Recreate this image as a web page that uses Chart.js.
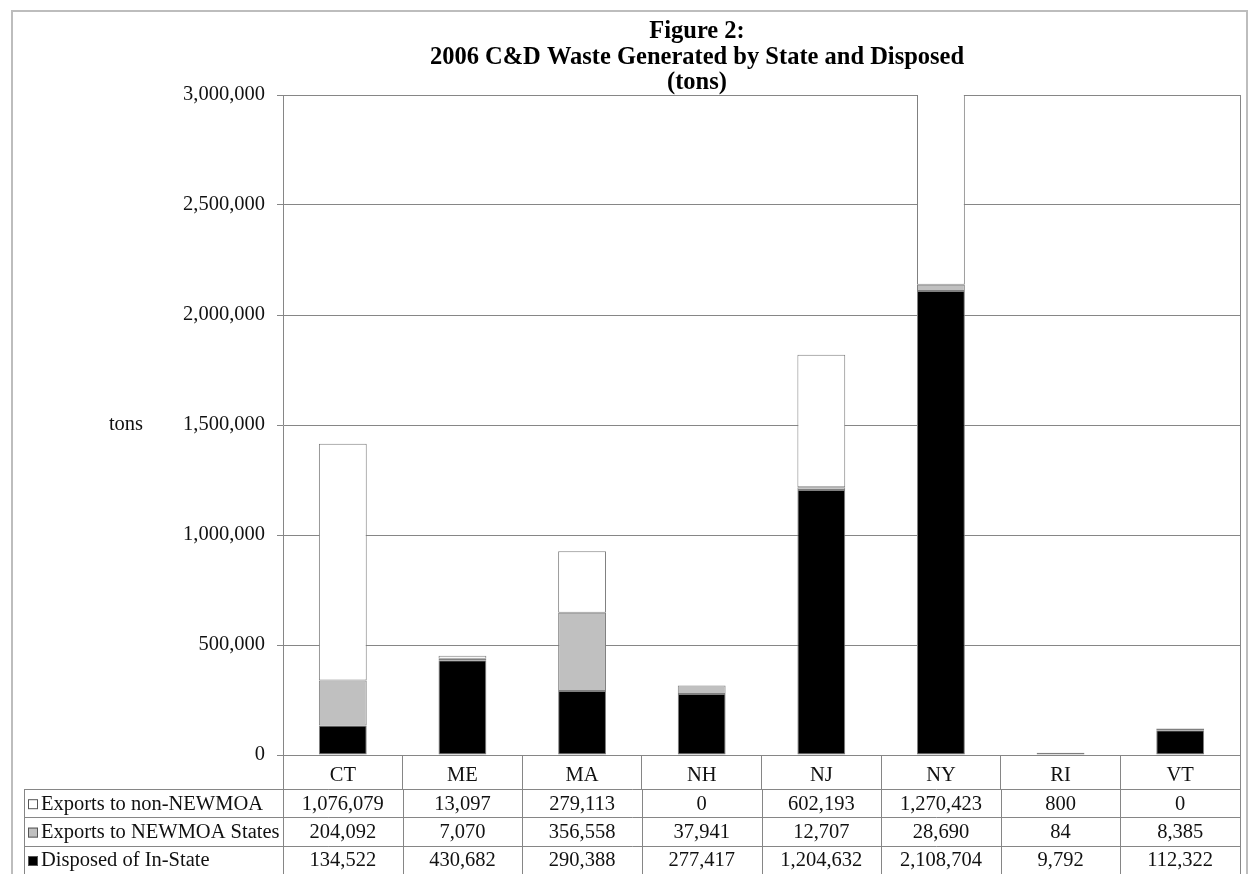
<!DOCTYPE html>
<html>
<head>
<meta charset="utf-8">
<title>2006 C&amp;D Waste Generated by State and Disposed</title>
<script src="https://cdn.jsdelivr.net/npm/chart.js@4/dist/chart.umd.min.js"></script>
<style>
  html, body { margin: 0; padding: 0; background: #ffffff; }
  canvas { display: block; }
</style>
</head>
<body>
<canvas id="chart" width="1248" height="874"></canvas>
<script>
// ---- data (tons) ----
const states = ['CT', 'ME', 'MA', 'NH', 'NJ', 'NY', 'RI', 'VT'];
const exportsNonNewmoa = [1076079, 13097, 279113, 0, 602193, 1270423, 800, 0];
const exportsNewmoa = [204092, 7070, 356558, 37941, 12707, 28690, 84, 8385];
const disposedInState = [134522, 430682, 290388, 277417, 1204632, 2108704, 9792, 112322];
const seriesNames = ['Exports to non-NEWMOA', 'Exports to NEWMOA States', 'Disposed of In-State'];
const titleLines = ['Figure 2:', '2006 C&D Waste Generated by State and Disposed', '(tons)'];
const yAxisLabel = 'tons';
const yMax = 3000000;
const yStep = 500000;

// ---- styling ----
const FONT = "'Liberation Serif', 'Times New Roman', serif";
const LINE = '#868686';
const FILL_WHITE = '#ffffff';
const FILL_GRAY = '#c0c0c0';
const FILL_BLACK = '#000000';
const fmt = v => v.toLocaleString('en-US');

// rows of the data table under the axis, top of stack first
const tableRows = [
  { name: seriesNames[0], values: exportsNonNewmoa, fill: FILL_WHITE },
  { name: seriesNames[1], values: exportsNewmoa, fill: FILL_GRAY },
  { name: seriesNames[2], values: disposedInState, fill: FILL_BLACK }
];

const TABLE = { left: 24, top: 789, rowH: 28.4, labelX: 41, keyX: 28, keySize: 10 };
const TITLE = { centerX: 697, firstY: 32, lineGap: 25.5, size: 24.5 };

// frame, title, axis caption and data table drawn around the chart
const decorations = {
  id: 'decorations',
  beforeDraw(chart) {
    const ctx = chart.ctx;
    ctx.save();
    ctx.fillStyle = '#ffffff';
    ctx.fillRect(0, 0, chart.width, chart.height);
    ctx.strokeStyle = '#bdbdbd';
    ctx.lineWidth = 2;
    ctx.strokeRect(12, 11, 1235, 880);
    ctx.restore();
  },
  afterDraw(chart) {
    const { ctx, chartArea } = chart;
    const x = chart.scales.x;
    ctx.save();

    // title block
    ctx.fillStyle = '#000';
    ctx.font = 'bold ' + TITLE.size + 'px ' + FONT;
    ctx.textAlign = 'center';
    ctx.textBaseline = 'middle';
    titleLines.forEach((t, i) => ctx.fillText(t, TITLE.centerX, TITLE.firstY + i * TITLE.lineGap));

    // right edge of the plot area
    ctx.strokeStyle = LINE;
    ctx.lineWidth = 1;
    const rx = Math.round(chartArea.right) + 0.5;
    ctx.beginPath();
    ctx.moveTo(rx, chartArea.top);
    ctx.lineTo(rx, chartArea.bottom);
    ctx.stroke();

    // y axis caption, set horizontally
    ctx.fillStyle = '#111';
    ctx.font = '20.5px ' + FONT;
    ctx.fillText(yAxisLabel, 126, (chartArea.top + chartArea.bottom) / 2);

    // column boundaries follow the category scale
    const centers = states.map((s, i) => x.getPixelForValue(i));
    const bounds = [chartArea.left];
    for (let i = 1; i < centers.length; i++) bounds.push((centers[i - 1] + centers[i]) / 2);
    bounds.push(chartArea.right);

    const tableBottom = TABLE.top + TABLE.rowH * tableRows.length;
    ctx.strokeStyle = LINE;
    ctx.beginPath();
    for (let r = 0; r <= tableRows.length; r++) {
      const y = Math.round(TABLE.top + r * TABLE.rowH) + 0.5;
      ctx.moveTo(TABLE.left, y);
      ctx.lineTo(chartArea.right + 0.5, y);
    }
    [TABLE.left].concat(bounds).forEach(bx => {
      const vx = Math.round(bx) + 0.5;
      ctx.moveTo(vx, TABLE.top);
      ctx.lineTo(vx, tableBottom + 2);
    });
    ctx.stroke();

    tableRows.forEach((row, r) => {
      const cy = TABLE.top + r * TABLE.rowH + TABLE.rowH / 2 + 1;
      // legend key
      ctx.fillStyle = row.fill;
      ctx.fillRect(TABLE.keyX, cy - TABLE.keySize / 2, TABLE.keySize, TABLE.keySize);
      ctx.strokeStyle = '#555';
      ctx.strokeRect(TABLE.keyX + 0.5, cy - TABLE.keySize / 2 + 0.5, TABLE.keySize - 1, TABLE.keySize - 1);
      // row label
      ctx.fillStyle = '#111';
      ctx.font = '20.5px ' + FONT;
      ctx.textAlign = 'left';
      ctx.fillText(row.name, TABLE.labelX, cy);
      // values
      ctx.textAlign = 'center';
      row.values.forEach((v, i) => ctx.fillText(fmt(v), centers[i], cy));
    });
    ctx.restore();
  }
};

const barCommon = {
  borderColor: '#7f7f7f',
  borderWidth: 1,
  borderSkipped: false,
  barPercentage: 0.4,
  categoryPercentage: 1.0
};

new Chart(document.getElementById('chart'), {
  type: 'bar',
  data: {
    labels: states,
    datasets: [
      Object.assign({ label: seriesNames[2], data: disposedInState, backgroundColor: FILL_BLACK }, barCommon),
      Object.assign({ label: seriesNames[1], data: exportsNewmoa, backgroundColor: FILL_GRAY }, barCommon),
      Object.assign({ label: seriesNames[0], data: exportsNonNewmoa, backgroundColor: FILL_WHITE }, barCommon)
    ]
  },
  options: {
    responsive: false,
    animation: false,
    layout: { padding: { top: 95, left: 0, right: 8, bottom: 0 } },
    plugins: {
      legend: { display: false },
      tooltip: { enabled: false },
      title: { display: false }
    },
    scales: {
      x: {
        stacked: true,
        offset: true,
        grid: { offset: true, drawOnChartArea: false, drawTicks: true, tickLength: 34, color: LINE },
        border: { color: LINE },
        ticks: { color: '#111', padding: -26, font: { family: FONT, size: 20.5 } },
        afterFit(scale) { scale.height = 119; }
      },
      y: {
        stacked: true,
        min: 0,
        max: yMax,
        grid: { color: LINE, tickLength: 6 },
        border: { color: LINE },
        ticks: {
          stepSize: yStep,
          color: '#111',
          padding: 12,
          font: { family: FONT, size: 20.5 },
          callback: v => fmt(v)
        },
        afterFit(scale) { scale.width = 283; }
      }
    }
  },
  plugins: [decorations]
});
</script>
</body>
</html>
